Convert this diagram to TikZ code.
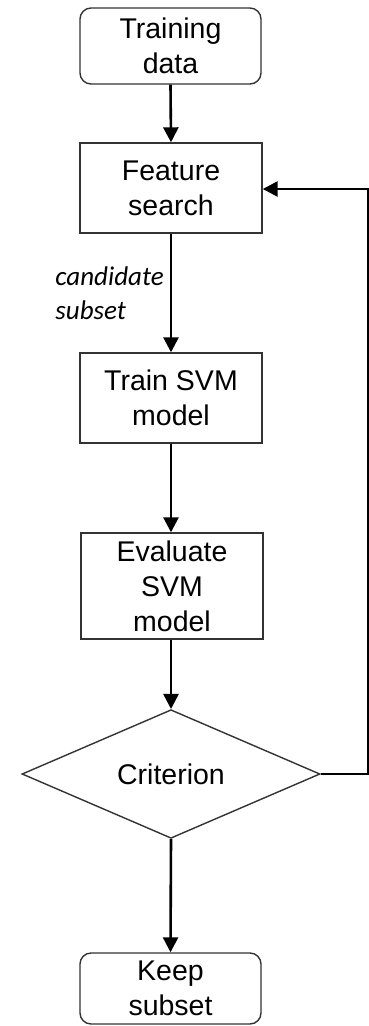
\documentclass[tikz,border=0pt]{standalone}
\usepackage{fontspec}
\setmainfont{Liberation Sans}
\newfontfamily\notefont{Carlito}
\usetikzlibrary{shapes.geometric,arrows.meta}
\begin{document}
\begin{tikzpicture}[x=1pt,y=-1pt,
  box/.style={draw=black!80,line width=1.4pt,inner sep=0pt,align=center,
    minimum width=182pt,minimum height=90pt,font=\fontsize{28.5}{35}\selectfont},
  terminal/.style={box,rounded corners=11pt},
  decision/.style={diamond,draw=black!80,line width=1.4pt,inner sep=0pt,
    minimum width=298pt,minimum height=120pt,font=\fontsize{28.5}{35}\selectfont},
  flow/.style={line width=2.6pt,-{Triangle[length=15pt,width=15pt]}}]
\useasboundingbox (0,0) rectangle (369,1026);
\node[terminal,minimum width=181pt,minimum height=76pt] (train) at (170.5,46) {Training\\data};
\node[box] (search) at (171,188) {Feature\\search};
\node[box] (fit) at (171,398) {Train SVM\\model};
\node[box,minimum height=106pt] (eval) at (172,586) {Evaluate\\SVM\\model};
\node[decision] (crit) at (171,774) {Criterion};
\node[terminal,minimum width=181pt,minimum height=71pt] (keep) at (170.5,988.5) {Keep\\subset};
\coordinate (corner1) at (368,774);
\coordinate (corner2) at (368,189);
\draw[flow] (train.south) -- (search.north);
\draw[flow] (search.south) -- node[left,pos=0.5,align=left,inner sep=6pt,
  font=\notefont\itshape\fontsize{27}{34}\selectfont] {candidate\\subset} (fit.north);
\draw[flow] (fit.south) -- (fit.south |- eval.north);
\draw[flow] (eval.south -| crit.north) -- (crit.north);
\draw[flow] (crit.south) -- (keep.north);
\draw[flow] (crit.east) -- (corner1) -- (corner2) -- (search.east |- corner2);
\end{tikzpicture}
\end{document}
